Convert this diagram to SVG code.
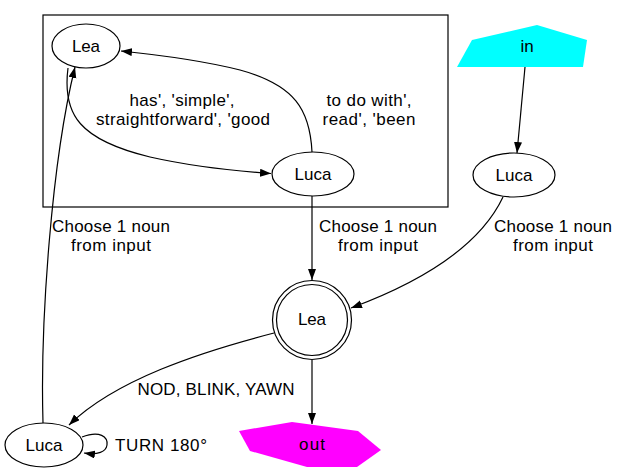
<svg xmlns="http://www.w3.org/2000/svg" width="629" height="473" viewBox="0 0 629 473">
<defs>
<style>
text{font-family:"Liberation Sans",Arial,sans-serif;font-size:17px;fill:#000;text-anchor:middle}
.n{fill:#fff;stroke:#000;stroke-width:1.2}
.e{fill:none;stroke:#000;stroke-width:1.2}
</style>
<marker id="a" markerUnits="userSpaceOnUse" markerWidth="12" markerHeight="9" refX="11" refY="4" orient="auto">
<path d="M0,0 L11,4 L0,8 z" fill="#000"/>
</marker>
</defs>
<rect width="629" height="473" fill="#fff"/>
<rect x="43" y="15" width="405" height="192" fill="none" stroke="#000" stroke-width="1.2"/>
<g id="edges">
<path class="e" d="M68,68 C62,115 80,140 150,157 C190,166 235,171 271,173.5" marker-end="url(#a)"/>
<path class="e" d="M312,152 C310,110 295,85 240,70 C200,60 160,55 121,51" marker-end="url(#a)"/>
<path class="e" d="M525,67 L517,153" marker-end="url(#a)"/>
<path class="e" d="M503,197 C485,235 440,275 351,308" marker-end="url(#a)"/>
<path class="e" d="M312,196 L312,280" marker-end="url(#a)"/>
<path class="e" d="M274,333 C200,352 115,380 69,425" marker-end="url(#a)"/>
<path class="e" d="M312,360 L312,424" marker-end="url(#a)"/>
<path class="e" d="M43,423 C40,320 52,160 75,67" marker-end="url(#a)"/>
<path class="e" d="M82,437 C100,430 108,437 107,445 C106,452 98,455 84,453" marker-end="url(#a)"/>
<text x="182" y="106" textLength="105">has', 'simple',</text>
<text x="183" y="124.5" textLength="174">straightforward', 'good</text>
<text x="369" y="106" textLength="85">to do with',</text>
<text x="369" y="124.5" textLength="93">read', 'been</text>
<text x="111" y="232" textLength="118">Choose 1 noun</text>
<text x="111" y="251" textLength="80">from input</text>
<text x="378" y="232" textLength="118">Choose 1 noun</text>
<text x="378" y="251" textLength="80">from input</text>
<text x="553" y="232" textLength="118">Choose 1 noun</text>
<text x="553" y="251" textLength="80">from input</text>
<text x="216" y="395" textLength="157">NOD, BLINK, YAWN</text>
<text x="115" y="451" style="text-anchor:start" textLength="92">TURN 180°</text>
</g>
<g id="lea1"><ellipse class="n" cx="86" cy="46" rx="34" ry="22"/><text x="86" y="52" textLength="28">Lea</text></g>
<g id="luca1"><ellipse class="n" cx="313" cy="174" rx="41" ry="22"/><text x="313" y="180" textLength="37">Luca</text></g>
<g id="in"><polygon points="537,25 587,40 583,67 457,67 472,40" fill="#00ffff"/><text x="527" y="52">in</text></g>
<g id="luca2"><ellipse class="n" cx="514" cy="175" rx="41" ry="22"/><text x="514" y="181" textLength="37">Luca</text></g>
<g id="lea2"><circle class="n" cx="312" cy="320" r="39.5"/><circle class="n" cx="312" cy="320" r="35.5"/><text x="312" y="325" textLength="28">Lea</text></g>
<g id="luca3"><ellipse class="n" cx="44" cy="445" rx="39" ry="22"/><text x="44" y="451" textLength="37">Luca</text></g>
<g id="out"><polygon points="239,431 292,422 358,431 381,450 357,467 307,467 250,451" fill="#ff00ff"/><text x="312" y="450" textLength="26">out</text></g>
</svg>
